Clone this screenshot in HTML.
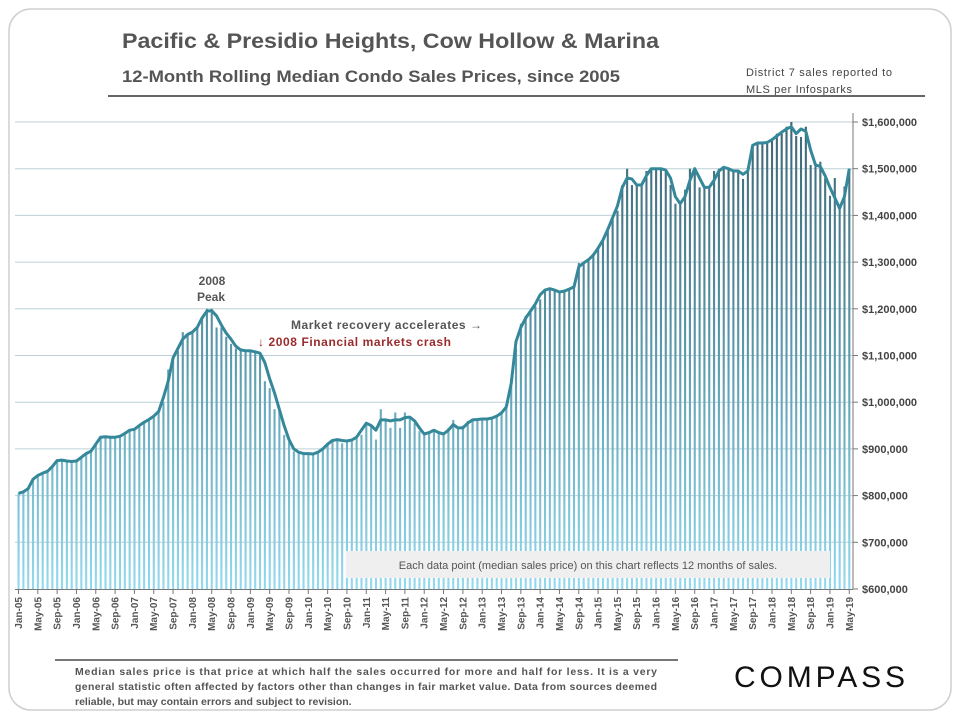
<!DOCTYPE html>
<html><head><meta charset="utf-8"><style>
body{margin:0;background:#fff;width:960px;height:720px;overflow:hidden;font-family:"Liberation Sans",sans-serif}
svg text{font-family:"Liberation Sans",sans-serif}
</style></head><body>
<svg id="c" width="960" height="720" viewBox="0 0 960 720">
<defs><linearGradient id="bg" gradientUnits="userSpaceOnUse" x1="0" y1="122" x2="0" y2="589">
<stop offset="0" stop-color="#3d6674"/><stop offset="0.5" stop-color="#5b9aad"/><stop offset="1" stop-color="#93d9ef"/></linearGradient></defs>
<rect x="9" y="9" width="942" height="701" rx="22" fill="none" stroke="#cfcfcf" stroke-width="1.5"/>
<text x="122" y="48" font-size="21" font-weight="bold" fill="#555" textLength="537" lengthAdjust="spacingAndGlyphs">Pacific &amp; Presidio Heights, Cow Hollow &amp; Marina</text>
<text x="122" y="82" font-size="17" font-weight="bold" fill="#555" textLength="498" lengthAdjust="spacingAndGlyphs">12-Month Rolling Median Condo Sales Prices, since 2005</text>
<text x="746" y="76" font-size="11" fill="#444"><tspan x="746" textLength="146">District 7 sales reported to</tspan><tspan x="746" dy="17" textLength="106">MLS per Infosparks</tspan></text>
<line x1="108" y1="96" x2="925" y2="96" stroke="#666" stroke-width="2"/>
<g id="grid"></g><g id="bars"></g><g id="line"></g><g id="axes"></g>
<rect x="346" y="551" width="484" height="27" fill="#efefef"/>
<text x="588" y="569" font-size="11" fill="#555" text-anchor="middle">Each data point (median sales price) on this chart reflects 12 months of sales.</text>
<text x="212" y="285" font-size="12" font-weight="bold" fill="#555" text-anchor="middle"><tspan x="212">2008</tspan><tspan x="211" dy="16">Peak</tspan></text>
<text x="291" y="329" font-size="12" font-weight="bold" fill="#555" textLength="191">Market recovery accelerates →</text>
<text x="258" y="346" font-size="12" font-weight="bold" fill="#9b2b2b" textLength="193">↓ 2008  Financial markets crash</text>
<line x1="55" y1="660" x2="678" y2="660" stroke="#777" stroke-width="2"/>
<text font-size="10.5" font-weight="bold" fill="#555"><tspan x="75" y="675" textLength="582">Median sales price is that price at which half the sales occurred for more and half for less. It is a very</tspan><tspan x="75" y="690" textLength="582">general statistic often affected by factors other than changes in fair market value. Data from sources deemed</tspan><tspan x="75" y="705">reliable, but may contain errors and subject to revision.</tspan></text>
<text x="734" y="687" font-size="30" fill="#111" letter-spacing="3" textLength="174">COMPASS</text>
</svg>
<script>
const months=["Jan","Feb","Mar","Apr","May","Jun","Jul","Aug","Sep","Oct","Nov","Dec"];
const yTicks=[600000,700000,800000,900000,1000000,1100000,1200000,1300000,1400000,1500000,1600000];
const lineValues=[805,808,815,835,843,848,852,862,875,876,874,873,
874,882,890,895,910,925,926,925,925,927,933,940,
942,950,957,963,970,980,1010,1045,1095,1115,1135,1145,
1150,1160,1180,1195,1196,1185,1165,1148,1135,1120,1112,1110,
1110,1108,1105,1085,1050,1020,985,950,920,900,893,890,
890,889,893,900,910,918,920,918,917,919,925,940,
955,950,940,962,962,960,962,962,967,968,960,945,
932,935,940,935,932,940,952,945,945,955,962,963,
964,964,966,970,977,990,1040,1130,1160,1180,1195,1210,
1230,1240,1243,1240,1236,1238,1242,1247,1290,1298,1305,1315,
1330,1347,1370,1395,1420,1460,1480,1478,1465,1465,1485,1500,
1500,1500,1497,1480,1440,1425,1440,1475,1500,1480,1460,1460,
1475,1495,1503,1500,1495,1495,1488,1495,1550,1555,1555,1556,
1562,1570,1578,1585,1590,1575,1585,1580,1540,1508,1505,1485,
1460,1438,1415,1440,1500];
const barValues=[805,808,815,835,843,848,852,862,875,876,874,873,
874,882,890,895,910,928,926,925,925,927,936,940,
944,950,960,963,970,978,1000,1070,1098,1110,1150,1145,
1150,1160,1180,1200,1200,1160,1160,1140,1125,1115,1110,1110,
1110,1108,1100,1045,1030,985,980,930,915,895,893,890,
890,889,893,900,910,918,922,912,917,917,922,930,
955,950,920,985,960,945,978,945,978,968,955,938,
930,935,940,935,932,945,962,945,950,960,962,963,
964,964,966,970,977,990,1040,1115,1168,1185,1195,1205,
1220,1240,1243,1240,1236,1238,1242,1247,1298,1298,1305,1318,
1330,1347,1370,1395,1410,1465,1500,1465,1465,1465,1495,1500,
1500,1500,1497,1465,1425,1425,1455,1500,1500,1460,1460,1460,
1495,1500,1503,1500,1495,1495,1478,1500,1548,1555,1555,1556,
1560,1575,1575,1590,1600,1570,1568,1590,1508,1505,1515,1480,
1442,1480,1415,1462,1500];
const NS="http://www.w3.org/2000/svg";
const X0=18.5,DX=4.83,Y0=589,YK=46.7/100000;
function xs(i){return X0+i*DX;}
function ys(v){return Y0-(v-600000)*YK;}
function mk(t,a,p){const e=document.createElementNS(NS,t);for(const k in a)e.setAttribute(k,a[k]);p.appendChild(e);return e;}
const grid=document.getElementById('grid'),axes=document.getElementById('axes');
yTicks.forEach(v=>{
  if(v>600000){const g=mk('line',{x1:15,x2:853,y1:ys(v),y2:ys(v),stroke:'#bcd0d6','stroke-width':1},grid);
  
  }
  const tk=mk('line',{x1:853,x2:858,y1:ys(v),y2:ys(v),stroke:'#777'},axes);
  
  
  const t=mk('text',{x:862,y:ys(v)+4,'font-size':11,'font-weight':'bold',fill:'#444'},axes);
  t.textContent='$'+v.toLocaleString('en-US');
  
  
});
const bars=document.getElementById('bars');
barValues.forEach((v,i)=>{
  const b=mk('rect',{x:xs(i)-1,y:ys(v*1000),width:2.1,height:Y0-ys(v*1000),fill:'url(#bg)'},bars);
  
  
});
const pts=lineValues.map((v,i)=>xs(i).toFixed(1)+','+ys(v*1000).toFixed(1)).join(' ');
const pl=mk('polyline',{points:pts,fill:'none',stroke:'#35889a','stroke-width':3,'stroke-linejoin':'round'},document.getElementById('line'));


const ax=mk('line',{x1:853,x2:853,y1:113,y2:589,stroke:'#777'},axes);


const bx=mk('line',{x1:15,x2:853,y1:589.5,y2:589.5,stroke:'#777'},axes);


for(let i=0;i<lineValues.length;i+=4){
  const x=xs(i);
  const tk=mk('line',{x1:x,x2:x,y1:589,y2:594,stroke:'#777'},axes);
  
  
  const yr=String(5+Math.floor(i/12)).padStart(2,'0');
  const t=mk('text',{x:0,y:0,'font-size':10,'font-weight':'bold',fill:'#555','text-anchor':'end',transform:`translate(${x+3.5},597) rotate(-90)`},axes);
  t.textContent=months[i%12]+'-'+yr;
  
  
}
</script>
</body></html>
